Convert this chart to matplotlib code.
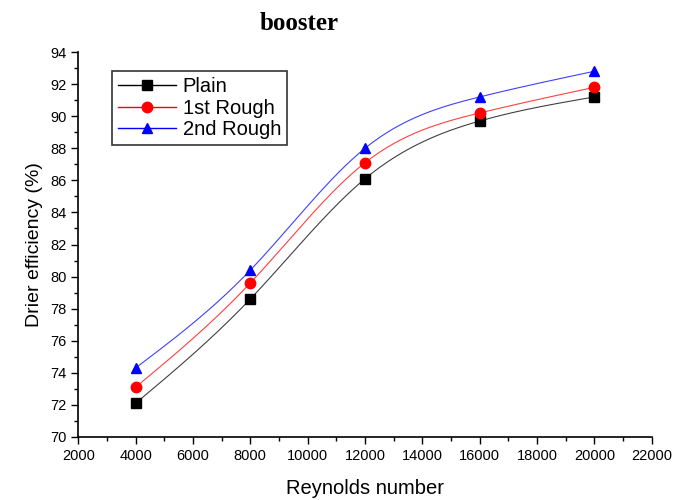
import numpy as np
import matplotlib
matplotlib.use('Agg')
from matplotlib import pyplot as plt
from matplotlib.ticker import MultipleLocator

reynolds = [4000, 8000, 12000, 16000, 20000]
plain = [72.1, 78.6, 86.1, 89.7, 91.2]
rough1 = [73.1, 79.6, 87.1, 90.2, 91.8]
rough2 = [74.3, 80.4, 88.0, 91.2, 92.8]


def spline(x, y, n=200):
    # natural cubic spline through the points
    x = np.asarray(x, float)
    y = np.asarray(y, float)
    k = len(x)
    h = np.diff(x)
    A = np.zeros((k, k))
    b = np.zeros(k)
    A[0, 0] = A[-1, -1] = 1
    for i in range(1, k - 1):
        A[i, i - 1] = h[i - 1]
        A[i, i] = 2 * (h[i - 1] + h[i])
        A[i, i + 1] = h[i]
        b[i] = 6 * ((y[i + 1] - y[i]) / h[i] - (y[i] - y[i - 1]) / h[i - 1])
    M = np.linalg.solve(A, b)
    xs = np.linspace(x[0], x[-1], n)
    ys = np.empty_like(xs)
    for j, t in enumerate(xs):
        i = min(np.searchsorted(x, t, side='right') - 1, k - 2)
        a = x[i + 1] - t
        c = t - x[i]
        ys[j] = (M[i] * a ** 3 + M[i + 1] * c ** 3) / (6 * h[i]) \
            + (y[i] / h[i] - M[i] * h[i] / 6) * a \
            + (y[i + 1] / h[i] - M[i + 1] * h[i] / 6) * c
    return xs, ys


plt.rcParams['font.family'] = ['Liberation Sans', 'DejaVu Sans']
fig = plt.figure(figsize=(6.92, 5.0), dpi=100)
ax = fig.add_axes([0.113, 0.126, 0.829, 0.770])

series = [(plain, 'black', 's', 'Plain'),
          (rough1, 'red', 'o', '1st Rough'),
          (rough2, 'blue', '^', '2nd Rough')]
for vals, col, mk, lab in series:
    xs, ys = spline(reynolds, vals)
    ax.plot(xs, ys, color=col, lw=0.8, alpha=0.75)
    ax.plot(reynolds, vals, linestyle='none', marker=mk, color=col, ms=7.5)
    ax.plot([], [], color=col, lw=1, marker=mk, ms=7.5, label=lab)

ax.set_xlim(2000, 22000)
ax.set_ylim(70, 94)
ax.xaxis.set_major_locator(MultipleLocator(2000))
ax.xaxis.set_minor_locator(MultipleLocator(1000))
ax.yaxis.set_major_locator(MultipleLocator(2))
ax.yaxis.set_minor_locator(MultipleLocator(1))
ax.spines['top'].set_visible(False)
ax.spines['right'].set_visible(False)
ax.spines['left'].set_linewidth(1.2)
ax.spines['bottom'].set_linewidth(1.2)
ax.tick_params(which='major', direction='out', length=5, width=1, labelsize=10.5)
ax.tick_params(which='minor', direction='out', length=3, width=1)

ax.set_xlabel('Reynolds number', fontsize=14.5, labelpad=12)
ax.set_ylabel('Drier efficiency (%)', fontsize=14, labelpad=5)

leg = ax.legend(loc='upper left', bbox_to_anchor=(0.059, 0.95), fontsize=14.5,
                frameon=True, fancybox=False, edgecolor='black',
                handlelength=2.9, handletextpad=0.3, borderpad=0.3,
                labelspacing=0.12, borderaxespad=0)
leg.get_frame().set_linewidth(1.2)

fig.text(0.433, 0.952, 'booster', fontsize=18, fontweight='bold',
         family='Liberation Serif', ha='center', va='center')

fig.savefig('out.png', dpi=100)
